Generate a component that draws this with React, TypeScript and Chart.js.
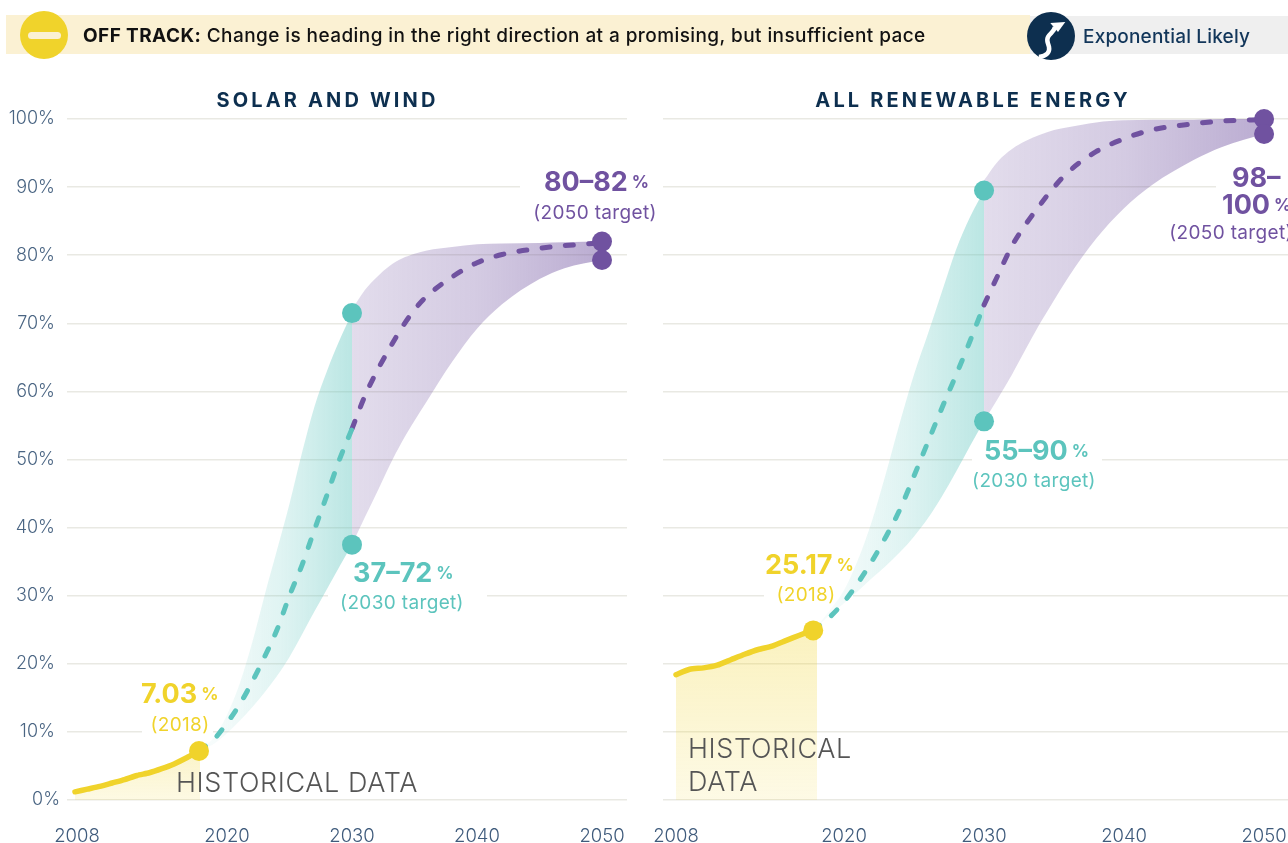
import React, { useEffect, useRef } from "react";
import { Chart, registerables } from "chart.js";

Chart.register(...registerables);

const tickYears = [2008, 2020, 2030, 2040, 2050];
const histYearsSolar = [2007.84, 2008.83, 2009.82, 2010.81, 2011.8, 2012.8, 2013.79, 2014.78, 2015.77, 2016.77, 2017.84];
const histSolar = [1.2, 1.6, 2.0, 2.5, 3.0, 3.6, 4.0, 4.6, 5.3, 6.2, 7.3];
const histYearsRenew = [2008, 2008.98, 2009.96, 2010.94, 2011.92, 2012.9, 2013.88, 2014.86, 2015.84, 2016.82, 2018.07];
const histRenew = [18.4, 19.2, 19.4, 19.8, 20.6, 21.4, 22.1, 22.6, 23.4, 24.2, 25.17];

const dotYearSolar = 2017.76;
const dotValueSolar = 7.2;
const dotYearRenew = 2017.8;
const dotValueRenew = 24.9;

const tealYearsSolar = [2017.76, 2019, 2020, 2021, 2022, 2023, 2024, 2025, 2026, 2027, 2028, 2029, 2030];
const tealYearsRenew = [2017.8, 2019, 2020, 2021, 2022, 2023, 2024, 2025, 2026, 2027, 2028, 2029, 2030];
const purpleYears = [2030, 2031, 2032, 2033, 2034, 2035, 2036, 2038, 2040, 2042, 2045, 2047, 2050];

const solarTealUpper = [7.2, 9.3, 12.5, 17, 23, 30, 36.7, 43.5, 51, 57.8, 63, 67.5, 71.5];
const solarTealLower = [7.2, 8.3, 9.8, 11.6, 13.6, 15.8, 18.2, 21, 24.3, 27.7, 31, 34.3, 37.5];
const solarTealMid = [7.2, 9, 11.3, 14, 17.3, 21, 25, 30, 34.5, 39.7, 44.8, 50, 54.5];
const solarPurpleUpper = [72, 74.8, 76.8, 78.4, 79.5, 80.2, 80.7, 81.2, 81.6, 81.7, 81.8, 81.9, 82];
const solarPurpleLower = [37.5, 41.4, 45.2, 49.1, 52.6, 55.7, 58.6, 64.3, 69.2, 72.8, 76.5, 78.1, 79.3];
const solarPurpleMid = [54.5, 59.2, 63, 66.3, 69.4, 72, 74, 76.8, 78.9, 80.1, 81, 81.4, 81.8];

const renewTealUpper = [24.9, 27.9, 30.8, 35.3, 41, 48, 55.5, 62.5, 68.5, 74.7, 80.8, 85.6, 89.5];
const renewTealLower = [24.9, 27.2, 28.9, 30.7, 32.6, 34.4, 36.4, 38.7, 41.4, 44.6, 48.2, 52, 55.6];
const renewTealMid = [24.9, 26.9, 29.1, 31.9, 35.1, 38.7, 42.7, 47.6, 52.6, 57.6, 62.4, 67.4, 72.7];
const renewPurpleUpper = [91, 93.8, 95.6, 96.8, 97.7, 98.4, 98.8, 99.5, 99.8, 99.9, 99.9, 100, 100];
const renewPurpleLower = [55.6, 59, 62.5, 66.3, 70, 73.4, 76.7, 82.4, 86.9, 90.3, 94, 95.9, 97.8];
const renewPurpleMid = [72.7, 77.1, 81.4, 84.6, 87.4, 90, 92.2, 95.2, 97.1, 98.4, 99.3, 99.7, 99.9];

const YELLOW = "#f0d32b";
const TEAL = "#5cc4bd";
const PURPLE = "#7052a0";
const NAVY = "#0d2f4f";
const FONT = 'Inter, "Open Sans", sans-serif';

const pts = (xs: number[], ys: number[]) => xs.map((x, i) => ({ x, y: ys[i] }));

type Part = { t: string; size: number; weight: number; spacing?: number };
type Note = { x: number; y: number; color: string; parts: Part[]; center?: boolean };
type Mask = { from: number; to: number; value: number };

const big = (t: string): Part => ({ t, size: 27, weight: 700 });
const pct: Part = { t: "%", size: 17, weight: 700 };
const sub = (t: string): Part => ({ t, size: 19, weight: 400, spacing: 0.35 });
const thin = (t: string): Part => ({ t, size: 27, weight: 300, spacing: 0.6 });

function horizontalGradient(chart: any, from: number, to: number, stops: [number, string][]) {
  const s = chart.scales?.x;
  const a = s?.getPixelForValue(from);
  const b = s?.getPixelForValue(to);
  if (!Number.isFinite(a) || !Number.isFinite(b)) return stops[0][1];
  const g = chart.ctx.createLinearGradient(a, 0, b, 0);
  stops.forEach(([o, c]) => g.addColorStop(o, c));
  return g;
}

function verticalGradient(chart: any, top: number, a: string, b: string) {
  const s = chart.scales?.y;
  const p0 = s?.getPixelForValue(top);
  const p1 = s?.getPixelForValue(0);
  if (!Number.isFinite(p0) || !Number.isFinite(p1)) return a;
  const g = chart.ctx.createLinearGradient(0, p0, 0, p1);
  g.addColorStop(0, a);
  g.addColorStop(1, b);
  return g;
}

function band(xs: number[], upper: number[], lower: number[], order: number, color: (c: any) => any) {
  return [
    { data: pts(xs, upper), borderWidth: 0, pointRadius: 0, fill: false, order, cubicInterpolationMode: "monotone" },
    { data: pts(xs, lower), borderWidth: 0, pointRadius: 0, fill: "-1", backgroundColor: color, order, cubicInterpolationMode: "monotone" },
  ];
}

function dashed(xs: number[], ys: number[], color: string, order: number) {
  return {
    data: pts(xs, ys),
    borderColor: color,
    borderWidth: 5,
    borderDash: [8, 15.4],
    borderCapStyle: "round",
    pointRadius: 0,
    fill: false,
    order,
    clip: false,
    cubicInterpolationMode: "monotone",
  };
}

function dots(data: { x: number; y: number }[], color: string, order: number) {
  return {
    data,
    showLine: false,
    pointRadius: 10,
    pointHoverRadius: 10,
    pointBackgroundColor: color,
    pointBorderWidth: 0,
    order,
    clip: false,
  };
}

type PanelSpec = {
  offset: number;
  width: number;
  left: number;
  right: number;
  xMin: number;
  xMax: number;
  showY: boolean;
  title: string;
  titleX: number;
  histYears: number[];
  hist: number[];
  dotYear: number;
  dotValue: number;
  tealYears: number[];
  tealUpper: number[];
  tealLower: number[];
  tealMid: number[];
  purpleUpper: number[];
  purpleLower: number[];
  purpleMid: number[];
  histTop: number;
  histAlpha: [string, string];
  notes: Note[];
  masks: Mask[];
};

const solarPanel: PanelSpec = {
  offset: 0, width: 660, left: 67, right: 627,
  xMin: 2007.2, xMax: 2052, showY: true,
  title: "SOLAR AND WIND", titleX: 327.5,
  histYears: histYearsSolar, hist: histSolar,
  dotYear: dotYearSolar, dotValue: dotValueSolar,
  tealYears: tealYearsSolar, tealUpper: solarTealUpper, tealLower: solarTealLower, tealMid: solarTealMid,
  purpleUpper: solarPurpleUpper, purpleLower: solarPurpleLower, purpleMid: solarPurpleMid,
  histTop: 7.2,
  histAlpha: ["rgba(240,211,43,0.26)", "rgba(240,211,43,0.13)"],
  masks: [
    { from: 520, to: 660, value: 90 },
    { from: 328, to: 487, value: 30 },
    { from: 142, to: 213, value: 10 },
  ],
  notes: [
    { x: 141, y: 695, color: YELLOW, parts: [big("7.03"), pct] },
    { x: 180, y: 725, color: YELLOW, center: true, parts: [sub("(2018)")] },
    { x: 353, y: 574, color: TEAL, parts: [big("37–72"), pct] },
    { x: 402, y: 603, color: TEAL, center: true, parts: [sub("(2030 target)")] },
    { x: 544, y: 183, color: PURPLE, parts: [big("80–82"), pct] },
    { x: 595, y: 213, color: PURPLE, center: true, parts: [sub("(2050 target)")] },
    { x: 176, y: 784, color: "#555555", parts: [thin("HISTORICAL DATA")] },
  ],
};

const renewPanel: PanelSpec = {
  offset: 640, width: 700, left: 23, right: 648,
  xMin: 2007.07, xMax: 2051.71, showY: false,
  title: "ALL RENEWABLE ENERGY", titleX: 973,
  histYears: histYearsRenew, hist: histRenew,
  dotYear: dotYearRenew, dotValue: dotValueRenew,
  tealYears: tealYearsRenew, tealUpper: renewTealUpper, tealLower: renewTealLower, tealMid: renewTealMid,
  purpleUpper: renewPurpleUpper, purpleLower: renewPurpleLower, purpleMid: renewPurpleMid,
  histTop: 24.9,
  histAlpha: ["rgba(240,211,43,0.3)", "rgba(240,211,43,0.12)"],
  masks: [
    { from: 1216, to: 1340, value: 90 },
    { from: 972, to: 1102, value: 50 },
    { from: 764, to: 853, value: 30 },
  ],
  notes: [
    { x: 765, y: 566, color: YELLOW, parts: [big("25.17"), pct] },
    { x: 806, y: 595, color: YELLOW, center: true, parts: [sub("(2018)")] },
    { x: 984, y: 452, color: TEAL, parts: [big("55–90"), pct] },
    { x: 1034, y: 481, color: TEAL, center: true, parts: [sub("(2030 target)")] },
    { x: 1232, y: 179, color: PURPLE, parts: [big("98–")] },
    { x: 1222, y: 206, color: PURPLE, parts: [big("100"), pct] },
    { x: 1231, y: 233, color: PURPLE, center: true, parts: [sub("(2050 target)")] },
    { x: 688, y: 750, color: "#555555", parts: [thin("HISTORICAL")] },
    { x: 688, y: 783, color: "#555555", parts: [thin("DATA")] },
  ],
};

function drawNote(ctx: CanvasRenderingContext2D, n: Note, offset: number) {
  ctx.fillStyle = n.color;
  ctx.textBaseline = "middle";
  ctx.textAlign = "left";
  const c = ctx as any;
  const setup = (p: Part) => {
    ctx.font = `${p.weight} ${p.size}px ${FONT}`;
    c.letterSpacing = `${p.spacing ?? 0}px`;
  };
  const gap = 4;
  let total = 0;
  n.parts.forEach((p, i) => {
    setup(p);
    total += ctx.measureText(p.t).width + (i ? gap : 0);
  });
  let x = (n.center ? n.x - total / 2 : n.x) - offset;
  n.parts.forEach((p) => {
    setup(p);
    ctx.fillText(p.t, x, n.y);
    x += ctx.measureText(p.t).width + gap;
  });
  c.letterSpacing = "0px";
}

function buildChart(canvas: HTMLCanvasElement, p: PanelSpec) {
  const overlay = {
    id: "overlay",
    beforeDatasetsDraw(chart: any) {
      const { ctx, scales } = chart;
      ctx.save();
      ctx.fillStyle = "#ffffff";
      p.masks.forEach((m) => {
        ctx.fillRect(m.from - p.offset, scales.y.getPixelForValue(m.value) - 2, m.to - m.from, 4);
      });
      ctx.restore();
    },
    afterDraw(chart: any) {
      const { ctx } = chart;
      ctx.save();
      p.notes.forEach((n) => drawNote(ctx, n, p.offset));
      ctx.fillStyle = NAVY;
      ctx.font = `700 20px ${FONT}`;
      (ctx as any).letterSpacing = "3.15px";
      ctx.textAlign = "center";
      ctx.textBaseline = "middle";
      ctx.fillText(p.title, p.titleX - p.offset, 101);
      ctx.restore();
    },
  };

  return new Chart(canvas, {
    type: "line",
    data: {
      datasets: [
        ...band(purpleYears, p.purpleUpper, p.purpleLower, 10, (c: any) =>
          horizontalGradient(c.chart, 2030, 2050, [
            [0, "rgba(112,82,160,0.2)"],
            [0.5, "rgba(112,82,160,0.3)"],
            [1, "rgba(112,82,160,0.48)"],
          ])
        ),
        ...band(p.tealYears, p.tealUpper, p.tealLower, 9, (c: any) =>
          horizontalGradient(c.chart, 2019, 2030, [
            [0, "rgba(92,196,189,0.05)"],
            [0.5, "rgba(92,196,189,0.2)"],
            [1, "rgba(92,196,189,0.42)"],
          ])
        ),
        {
          data: pts(p.histYears, p.hist),
          borderColor: YELLOW,
          borderWidth: 5.5,
          borderCapStyle: "round",
          pointRadius: 0,
          fill: "origin",
          backgroundColor: (c: any) => verticalGradient(c.chart, p.histTop, p.histAlpha[0], p.histAlpha[1]),
          order: 8,
          tension: 0.2,
        },
        dashed(purpleYears, p.purpleMid, PURPLE, 7),
        dashed(p.tealYears, p.tealMid, TEAL, 6),
        dots(
          [
            { x: 2050, y: p.purpleUpper[p.purpleUpper.length - 1] },
            { x: 2050, y: p.purpleLower[p.purpleLower.length - 1] },
          ],
          PURPLE,
          5
        ),
        dots(
          [
            { x: 2030, y: p.tealUpper[p.tealUpper.length - 1] },
            { x: 2030, y: p.tealLower[p.tealLower.length - 1] },
          ],
          TEAL,
          4
        ),
        dots([{ x: p.dotYear, y: p.dotValue }], YELLOW, 3),
      ] as any,
    },
    options: {
      animation: false,
      responsive: false,
      events: [],
      layout: { padding: { top: 119, right: p.width - p.right, bottom: 0, left: 0 } },
      plugins: { legend: { display: false }, tooltip: { enabled: false } },
      scales: {
        x: {
          type: "linear",
          min: p.xMin,
          max: p.xMax,
          grid: { display: false, drawTicks: false },
          border: { display: false },
          afterBuildTicks: (s: any) => {
            s.ticks = tickYears.map((value) => ({ value }));
          },
          afterFit: (s: any) => {
            s.height = 43;
            s.paddingLeft = 0;
            s.paddingRight = 0;
          },
          ticks: {
            autoSkip: false,
            maxRotation: 0,
            padding: 25,
            color: "#3f5b7c",
            font: { family: FONT, size: 18.5, weight: 300 },
            callback: (v: any) => String(v),
          },
        },
        y: {
          min: 0,
          max: 100,
          grid: { color: "#e9e9e3", lineWidth: 1.6, drawTicks: false },
          border: { display: false },
          afterFit: (s: any) => {
            s.width = p.left;
          },
          ticks: {
            display: p.showY,
            stepSize: 10,
            padding: 7,
            color: "#4a6583",
            font: { family: FONT, size: 18, weight: 300 },
            callback: (v: any) => (v === 0 ? "0%" : `${v}% `),
          },
        },
      },
    } as any,
    plugins: [overlay],
  });
}

function Panel({ spec }: { spec: PanelSpec }) {
  const ref = useRef<HTMLCanvasElement>(null);
  useEffect(() => {
    const chart = buildChart(ref.current!, spec);
    return () => chart.destroy();
  }, [spec]);
  return (
    <canvas
      ref={ref}
      width={spec.width}
      height={843}
      style={{ position: "absolute", left: spec.offset, top: 0, width: spec.width, height: 843 }}
    />
  );
}

const abs = (s: React.CSSProperties): React.CSSProperties => ({ position: "absolute", ...s });

export default function App() {
  return (
    <div style={abs({ left: 0, top: 0, width: 1288, height: 843, overflow: "hidden", background: "#fff", fontFamily: FONT })}>
      <Panel spec={solarPanel} />
      <Panel spec={renewPanel} />
      <div style={abs({ left: 6, top: 15, width: 1024, height: 39, background: "#fbf1d3" })} />
      <div style={abs({ left: 1030, top: 16, width: 258, height: 38, background: "#efefef" })} />
      <div style={abs({ left: 20, top: 11, width: 48, height: 48, borderRadius: "50%", background: YELLOW })} />
      <div style={abs({ left: 28, top: 32, width: 33, height: 7, borderRadius: 4, background: "#fbf1d3" })} />
      <div style={abs({ left: 83, top: 15, height: 39, lineHeight: "41px", fontSize: 19, fontWeight: 500, color: "#111", whiteSpace: "nowrap", letterSpacing: "0.42px" })}>
        <b style={{ fontWeight: 700 }}>OFF TRACK:</b> Change is heading in the right direction at a promising, but insufficient pace
      </div>
      <svg style={abs({ left: 1027, top: 12 })} width={48} height={48} viewBox="0 0 48 48">
        <circle cx={24} cy={24} r={24} fill={NAVY} />
        <path d="M12 45 C20 44 23 40 22 35 C21 30 19 29 21 25 C23 21 27 20 28 15" fill="none" stroke="#fff" strokeWidth={4.5} />
        <path d="M23.3 11 L38.3 10 L31 20 Z" fill="#fff" />
      </svg>
      <div style={abs({ left: 1083, top: 16, height: 38, lineHeight: "42px", fontSize: 19, fontWeight: 500, color: "#12365a", whiteSpace: "nowrap", letterSpacing: "0.18px" })}>
        Exponential Likely
      </div>
    </div>
  );
}
